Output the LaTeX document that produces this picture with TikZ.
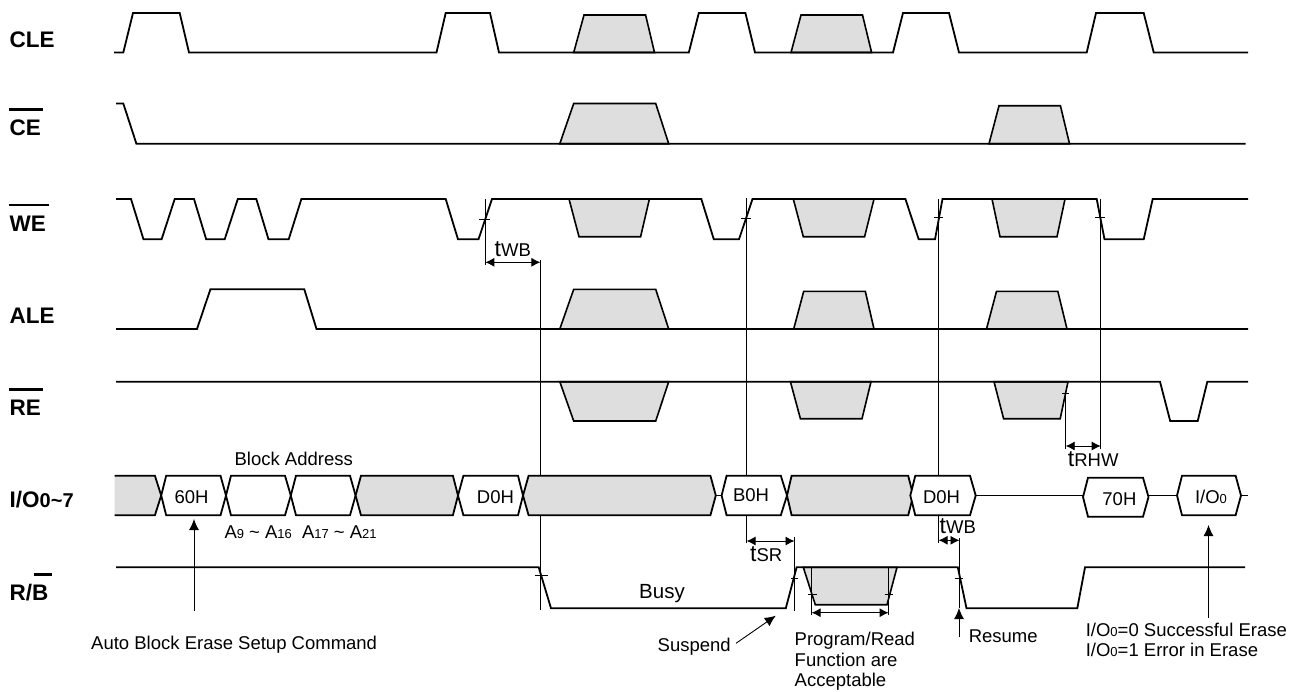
\documentclass[tikz,border=0pt]{standalone}
\usepackage{fontspec}
\setmainfont{Liberation Sans}
\usetikzlibrary{arrows.meta}
\newcommand\txtsub[1]{{\fontsize{13}{14}\selectfont #1}}
\newcommand\biglet{\fontsize{23}{24}\selectfont t\fontsize{18.5}{22}\selectfont}
\tikzset{
  x=1pt,y=-1pt,
  sig/.style={line width=1.8pt,line join=miter,black},
  shade/.style={line width=1.6pt,fill=shadegray,draw=black,line join=miter},
  hexo/.style={line width=1.8pt,fill=white,draw=black},
  hexg/.style={line width=1.8pt,fill=shadegray,draw=black},
  thin1/.style={line width=0.9pt,black},
  dim/.style={line width=0.9pt,black,{Latex[length=9pt,width=9pt]}-{Latex[length=9pt,width=9pt]}},
  ptr/.style={line width=0.9pt,black,-{Latex[length=11pt,width=10pt]}},
  sname/.style={anchor=base west,inner sep=0pt,font=\fontsize{22.5}{24}\selectfont\bfseries},
  note/.style={anchor=base west,inner sep=0pt,font=\fontsize{18.5}{22}\selectfont},
  cnote/.style={anchor=base,inner sep=0pt,font=\fontsize{18.5}{22}\selectfont},
  bar/.style={line width=2.4pt,black},
}
\definecolor{shadegray}{HTML}{DEDEDE}
\begin{document}
\begin{tikzpicture}
\useasboundingbox (0,0) rectangle (1303,691);
% shaded trapezoids
\draw[shade] (573.7,52.5)--(584,15)--(645.6,15)--(654.5,52.5)--cycle;
\draw[shade] (791,52.5)--(801,15)--(862.5,15)--(871.6,52.5)--cycle;
\draw[shade] (559.8,143.7)--(573.7,103.5)--(655.7,103.5)--(668.7,143.7)--cycle;
\draw[shade] (989,143.7)--(999,105.7)--(1060.4,105.7)--(1069.5,143.7)--cycle;
\draw[shade] (569,199)--(579,236.7)--(640.6,236.7)--(649.4,199)--cycle;
\draw[shade] (793.3,199)--(803.3,236.7)--(864.6,236.7)--(874,199)--cycle;
\draw[shade] (992,199)--(1000,236.7)--(1057,236.7)--(1065,199)--cycle;
\draw[shade] (559.8,329)--(573.7,289.3)--(655.7,289.3)--(668.7,329)--cycle;
\draw[shade] (793.7,329)--(803.7,291.3)--(865.3,291.3)--(874,329)--cycle;
\draw[shade] (986.5,329)--(996.5,291.3)--(1057.8,291.3)--(1067,329)--cycle;
\draw[shade] (559.8,381.7)--(573.7,421)--(655.7,421)--(668.7,381.7)--cycle;
\draw[shade] (790.4,381.7)--(800.4,418.7)--(862,418.7)--(871,381.7)--cycle;
\draw[shade] (994,381.7)--(1003.6,418.7)--(1060.2,418.7)--(1068,381.7)--cycle;
\draw[shade] (803.3,567.3)--(815.3,604.7)--(887,604.7)--(897,567.3)--cycle;
% vertical timing lines
\draw[thin1] (485.3,199)--(485.3,265);
\draw[thin1] (540.4,260)--(540.4,610);
\draw[thin1] (746.6,198)--(746.6,543);
\draw[thin1] (938.6,199)--(938.6,543);
\draw[thin1] (1100.7,199)--(1100.7,449);
\draw[thin1] (1065.7,393)--(1065.7,449);
\draw[thin1] (794.5,537.3)--(794.5,610.7);
\draw[thin1] (959.5,538)--(959.5,608);
\draw[thin1] (811.6,567)--(811.6,615);
\draw[thin1] (888.6,567)--(888.6,615);
% ticks
\draw[thin1] (479.4,219.7)--(490,219.7);
\draw[thin1] (741,218)--(751,218);
\draw[thin1] (933.6,217.3)--(943,217.3);
\draw[thin1] (1095,217.3)--(1105,217.3);
\draw[thin1] (1062,393.3)--(1069,393.3);
\draw[thin1] (535,575.3)--(548,575.3);
\draw[thin1] (790.8,578.3)--(798,578.3);
\draw[thin1] (955,578.3)--(963,578.3);
\draw[thin1] (808,594.3)--(816.6,594.3);
\draw[thin1] (884.5,594.3)--(893,594.3);
% signals
\draw[sig] (114,52.5)--(123.3,52.5)--(133,13)--(179.7,13)--(189,52.5)--(436.5,52.5)--(445.7,13)--(490,13)--(499,52.5)--(688.8,52.5)--(698.8,13)--(745.4,13)--(755,52.5)--(893,52.5)--(903,13)--(949,13)--(959,52.5)--(1086.7,52.5)--(1096,13)--(1143.7,13)--(1153.7,52.5)--(1248,52.5);
\draw[sig] (116,103.5)--(123.3,103.5)--(136.4,143.7)--(1245.6,143.7);
\draw[sig] (116,199)--(131,199)--(143.5,239.3)--(161.6,239.3)--(174.7,199)--(194,199)--(206.2,239.3)--(224.7,239.3)--(237.8,199)--(256.3,199)--(268.5,239.3)--(288.7,239.3)--(301.4,199)--(445.7,199)--(458,239.3)--(478.5,239.3)--(492,199)--(701.3,199)--(713.8,239.3)--(739,239.3)--(752.5,199)--(905.4,199)--(918.7,239.3)--(935,239.3)--(942.5,199)--(1096.7,199)--(1104.5,239.3)--(1143.7,239.3)--(1152.7,199)--(1248,199);
\draw[sig] (116,329)--(197,329)--(210.4,289.3)--(304.3,289.3)--(316.5,329)--(1248,329);
\draw[sig] (116,381.7)--(1160,381.7)--(1170.2,421)--(1197.7,421)--(1207.3,381.7)--(1248,381.7);
\draw[sig] (116,567.3)--(538.7,567.3)--(551,608.3)--(785.8,608.3)--(796.6,567.3)--(957.8,567.3)--(966.5,608.3)--(1077.3,608.3)--(1085,567.3)--(1245,567.3);
% I/O bus
\draw[sig] (715.8,495.5)--(721.6,495.5);
\draw[sig] (975.7,495.5)--(1083,495.5);
\draw[sig] (1148.5,495.5)--(1177,495.5);
\draw[sig] (1241,495.5)--(1248,495.5);
\fill[shadegray] (114.5,475.7)--(154.9,475.7)--(161.2,495.5)--(154.9,515.3)--(114.5,515.3)--cycle;
\draw[sig] (114.5,475.7)--(154.9,475.7)--(161.2,495.5)--(154.9,515.3)--(114.5,515.3);
\draw[hexo] (161.2,495.5)--(166.2,475.7)--(220.5,475.7)--(226,495.5)--(220.5,515.3)--(166.2,515.3)--cycle;
\draw[hexo] (226,495.5)--(231,475.7)--(285,475.7)--(290.8,495.5)--(285,515.3)--(231,515.3)--cycle;
\draw[hexo] (290.8,495.5)--(296,475.7)--(350,475.7)--(355.6,495.5)--(350,515.3)--(296,515.3)--cycle;
\draw[hexg] (355.6,495.5)--(361,475.7)--(452.9,475.7)--(458,495.5)--(452.9,515.3)--(361,515.3)--cycle;
\draw[hexo] (458,495.5)--(463.4,475.7)--(518,475.7)--(523,495.5)--(518,515.3)--(463.4,515.3)--cycle;
\draw[hexg] (523,495.5)--(528.6,475.7)--(710.4,475.7)--(715.8,495.5)--(710.4,515.3)--(528.6,515.3)--cycle;
\draw[hexo] (721.6,495.5)--(726.6,475.7)--(780.8,475.7)--(787,495.5)--(780.8,515.3)--(726.6,515.3)--cycle;
\draw[hexg] (787,495.5)--(791.6,475.7)--(908.2,475.7)--(913.2,495.5)--(908.2,515.3)--(791.6,515.3)--cycle;
\draw[hexo] (910.3,495.5)--(915.3,475.7)--(970,475.7)--(975.7,495.5)--(970,515.3)--(915.3,515.3)--cycle;
\draw[hexo] (1083,497)--(1088,477.7)--(1143,477.7)--(1148.5,497)--(1143,516.7)--(1088,516.7)--cycle;
\draw[hexo] (1177,495.5)--(1182,475.7)--(1235.6,475.7)--(1241,495.5)--(1235.6,515.3)--(1182,515.3)--cycle;
% dimension arrows
\draw[dim] (485.3,262.3)--(540.4,262.3);
\draw[dim] (746.6,541)--(794.5,541);
\draw[dim] (938.6,540.3)--(959.5,540.3);
\draw[dim] (1065.7,446)--(1100.7,446);
\draw[dim] (811.6,612.7)--(888.6,612.7);
% pointers
\coordinate (p60a) at (194,610.7); \coordinate (p60b) at (194,519);
\coordinate (pioa) at (1208.5,617.7); \coordinate (piob) at (1208.5,525);
\coordinate (presa) at (959,636.7); \coordinate (presb) at (959,608);
\coordinate (psusa) at (736,643.3); \coordinate (psusb) at (775.8,615.7);
\draw[ptr] (p60a)--(p60b);
\draw[ptr] (pioa)--(piob);
\draw[ptr] (presa)--(presb);
\draw[ptr] (psusa)--(psusb);
% signal names
\node[sname] (ncle) at (9.5,47) {CLE};
\node[sname] (nce) at (9.5,135) {CE};
\node[sname] (nwe) at (9.5,231) {WE};
\node[sname] (nale) at (9.5,323.5) {ALE};
\node[sname] (nre) at (9.5,415) {RE};
\node[sname] (nio) at (9.5,507) {I/O{\fontsize{20}{21}\selectfont 0\textasciitilde 7}};
\node[sname] (nrb) at (9.5,600) {R/B};
\draw[bar] (9,109.3)--(43,109.3);
\draw[bar] (9,205)--(49,205);
\draw[bar] (9,389.3)--(43,389.3);
\draw[bar] (34,574.3)--(52,574.3);
% bus text
\node[cnote] (t60) at (191.5,503.5) {60H};
\node[cnote] (td1) at (495.4,503.5) {D0H};
\node[cnote] (tb0) at (751,501.5) {B0H};
\node[cnote] (td2) at (941.5,503.5) {D0H};
\node[cnote] (t70) at (1119.4,505.5) {70H};
\node[cnote] (tio) at (1211,503.5) {I/O\txtsub{0}};
% notes
\node[note] (tba) at (234.4,465.5) {Block Address};
\node[note] (ta1) at (224.3,538.3) {A\txtsub{9} \textasciitilde\ A\txtsub{16}};
\node[note] (ta2) at (301.8,538.3) {A\txtsub{17} \textasciitilde\ A\txtsub{21}};
\node[note] (tauto) at (91,649) {Auto Block Erase Setup Command};
\node[note,font=\fontsize{20.5}{22}\selectfont] (tbusy) at (639,598) {Busy};
\node[note] (tsus) at (657.5,651) {Suspend};
\node[note] (tp1) at (794.5,645) {Program/Read};
\node[note] (tp2) at (794.5,666) {Function are};
\node[note] (tp3) at (794.5,686.7) {Acceptable};
\node[note] (tres) at (968.6,642.3) {Resume};
\node[note] (ts1) at (1085.6,636.7) {I/O\txtsub{0}=0 Successful Erase};
\node[note] (ts2) at (1085.6,656.7) {I/O\txtsub{0}=1 Error in Erase};
\node[note] (twb1) at (494.5,256) {\biglet WB};
\node[note] (tsr) at (750,561.7) {\biglet SR};
\node[note] (twb2) at (939.5,533.3) {\biglet WB};
\node[note] (trhw) at (1067.7,466.7) {\biglet RHW};
\end{tikzpicture}
\end{document}
